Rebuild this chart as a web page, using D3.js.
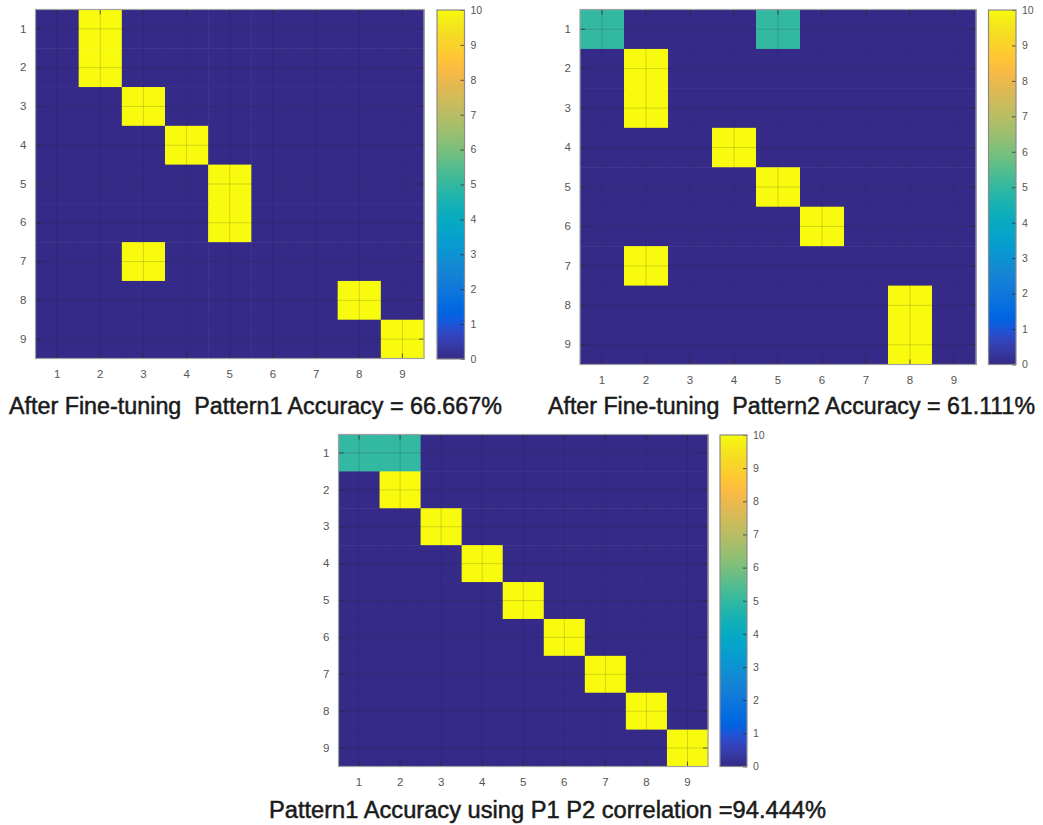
<!DOCTYPE html>
<html>
<head>
<meta charset="utf-8">
<script src="https://cdn.jsdelivr.net/npm/d3@7"></script>
<style>
  html, body { margin: 0; padding: 0; background: #ffffff; }
  svg { display: block; font-family: "Liberation Sans", Arial, sans-serif; }
</style>
</head>
<body>
<svg id="chart" width="1043" height="825"></svg>
<script>
// Class labels shared by both axes of every confusion matrix
const classLabels = [1, 2, 3, 4, 5, 6, 7, 8, 9];

// Confusion matrices (rows = true class, columns = predicted class)
const pattern1Matrix = [
  [0, 10, 0, 0, 0, 0, 0, 0, 0],
  [0, 10, 0, 0, 0, 0, 0, 0, 0],
  [0, 0, 10, 0, 0, 0, 0, 0, 0],
  [0, 0, 0, 10, 0, 0, 0, 0, 0],
  [0, 0, 0, 0, 10, 0, 0, 0, 0],
  [0, 0, 0, 0, 10, 0, 0, 0, 0],
  [0, 0, 10, 0, 0, 0, 0, 0, 0],
  [0, 0, 0, 0, 0, 0, 0, 10, 0],
  [0, 0, 0, 0, 0, 0, 0, 0, 10]
];
const pattern2Matrix = [
  [5, 0, 0, 0, 5, 0, 0, 0, 0],
  [0, 10, 0, 0, 0, 0, 0, 0, 0],
  [0, 10, 0, 0, 0, 0, 0, 0, 0],
  [0, 0, 0, 10, 0, 0, 0, 0, 0],
  [0, 0, 0, 0, 10, 0, 0, 0, 0],
  [0, 0, 0, 0, 0, 10, 0, 0, 0],
  [0, 10, 0, 0, 0, 0, 0, 0, 0],
  [0, 0, 0, 0, 0, 0, 0, 10, 0],
  [0, 0, 0, 0, 0, 0, 0, 10, 0]
];
const correlationMatrix = [
  [5, 5, 0, 0, 0, 0, 0, 0, 0],
  [0, 10, 0, 0, 0, 0, 0, 0, 0],
  [0, 0, 10, 0, 0, 0, 0, 0, 0],
  [0, 0, 0, 10, 0, 0, 0, 0, 0],
  [0, 0, 0, 0, 10, 0, 0, 0, 0],
  [0, 0, 0, 0, 0, 10, 0, 0, 0],
  [0, 0, 0, 0, 0, 0, 10, 0, 0],
  [0, 0, 0, 0, 0, 0, 0, 10, 0],
  [0, 0, 0, 0, 0, 0, 0, 0, 10]
];

// Colour bar range and ticks
const colorDomain = [0, 10];
const colorbarTicks = [0, 1, 2, 3, 4, 5, 6, 7, 8, 9, 10];

// Panel captions
const panelTitles = [
  "After Fine-tuning  Pattern1 Accuracy = 66.667%",
  "After Fine-tuning  Pattern2 Accuracy = 61.111%",
  "Pattern1 Accuracy using P1 P2 correlation =94.444%"
];

// Parula colormap (64 entries)
const parula = [
  [0.2081,0.1663,0.5292],[0.2116,0.1898,0.5777],[0.2123,0.2138,0.6270],[0.2081,0.2386,0.6771],
  [0.1959,0.2645,0.7279],[0.1707,0.2919,0.7792],[0.1253,0.3242,0.8303],[0.0591,0.3598,0.8683],
  [0.0117,0.3875,0.8820],[0.0060,0.4086,0.8828],[0.0165,0.4266,0.8786],[0.0329,0.4430,0.8720],
  [0.0498,0.4586,0.8641],[0.0629,0.4737,0.8554],[0.0723,0.4887,0.8467],[0.0779,0.5040,0.8384],
  [0.0793,0.5200,0.8312],[0.0749,0.5375,0.8263],[0.0641,0.5570,0.8240],[0.0488,0.5772,0.8228],
  [0.0343,0.5966,0.8199],[0.0265,0.6137,0.8135],[0.0239,0.6287,0.8038],[0.0231,0.6418,0.7913],
  [0.0228,0.6535,0.7768],[0.0267,0.6642,0.7607],[0.0384,0.6743,0.7436],[0.0590,0.6838,0.7254],
  [0.0843,0.6928,0.7062],[0.1133,0.7015,0.6859],[0.1453,0.7098,0.6646],[0.1801,0.7177,0.6424],
  [0.2178,0.7250,0.6193],[0.2586,0.7317,0.5954],[0.3022,0.7376,0.5712],[0.3482,0.7424,0.5473],
  [0.3953,0.7459,0.5244],[0.4420,0.7481,0.5033],[0.4871,0.7491,0.4840],[0.5300,0.7491,0.4661],
  [0.5709,0.7485,0.4494],[0.6099,0.7473,0.4337],[0.6473,0.7456,0.4188],[0.6834,0.7435,0.4044],
  [0.7184,0.7411,0.3905],[0.7525,0.7384,0.3768],[0.7858,0.7356,0.3633],[0.8185,0.7327,0.3498],
  [0.8507,0.7299,0.3360],[0.8824,0.7274,0.3217],[0.9139,0.7258,0.3063],[0.9450,0.7261,0.2886],
  [0.9739,0.7314,0.2666],[0.9938,0.7455,0.2403],[0.9990,0.7653,0.2164],[0.9955,0.7861,0.1967],
  [0.9880,0.8066,0.1794],[0.9789,0.8271,0.1633],[0.9697,0.8481,0.1475],[0.9626,0.8705,0.1309],
  [0.9589,0.8949,0.1132],[0.9598,0.9218,0.0948],[0.9661,0.9514,0.0755],[0.9763,0.9831,0.0538]
].map(c => d3.rgb(c[0] * 255, c[1] * 255, c[2] * 255).formatHex());

const parulaInterp = d3.piecewise(d3.interpolateRgb, parula);
const color = d3.scaleSequential(parulaInterp).domain(colorDomain);

// Layout of the three panels: plot box, colour bar box, caption
const panels = [
  { matrix: pattern1Matrix, title: panelTitles[0],
    plot: { x0: 35.5, x1: 424, y0: 9.5, y1: 358.5 },
    bar: { x0: 437, x1: 464.5, y0: 10, y1: 359 },
    caption: { x0: 9, x1: 502, y: 414 } },
  { matrix: pattern2Matrix, title: panelTitles[1],
    plot: { x0: 580, x1: 976, y0: 9.5, y1: 364.5 },
    bar: { x0: 988.5, x1: 1016, y0: 10, y1: 364.5 },
    caption: { x0: 548, x1: 1035, y: 414 } },
  { matrix: correlationMatrix, title: panelTitles[2],
    plot: { x0: 338.5, x1: 708, y0: 434.5, y1: 766.5 },
    bar: { x0: 720, x1: 747, y0: 435, y1: 766.5 },
    caption: { x0: 269, x1: 826, y: 818 } }
];

const svg = d3.select("#chart");
const defs = svg.append("defs");

// Vertical gradient used by every colour bar
const grad = defs.append("linearGradient")
  .attr("id", "parulaGrad")
  .attr("x1", 0).attr("y1", 1).attr("x2", 0).attr("y2", 0);
parula.forEach((c, i) => {
  grad.append("stop")
    .attr("offset", i / (parula.length - 1))
    .attr("stop-color", c);
});

const tickColor = "#2b2b2b";
const labelColor = "#555555";

panels.forEach(p => {
  const g = svg.append("g");
  const W = p.plot.x1 - p.plot.x0;
  const H = p.plot.y1 - p.plot.y0;

  const x = d3.scaleBand().domain(classLabels).range([p.plot.x0, p.plot.x1]).padding(0);
  const y = d3.scaleBand().domain(classLabels).range([p.plot.y0, p.plot.y1]).padding(0);

  // Cells
  const cells = [];
  p.matrix.forEach((row, ri) => row.forEach((v, ci) => {
    cells.push({ r: classLabels[ri], c: classLabels[ci], v });
  }));
  g.append("g").selectAll("rect")
    .data(cells)
    .join("rect")
    .attr("x", d => x(d.c))
    .attr("y", d => y(d.r))
    .attr("width", x.bandwidth() + 0.5)
    .attr("height", y.bandwidth() + 0.5)
    .attr("fill", d => color(d.v));

  // Faint grid lines through cell centres
  const grid = g.append("g")
    .attr("stroke", "#262626")
    .attr("stroke-opacity", 0.18)
    .attr("stroke-width", 1);
  classLabels.forEach(k => {
    const cx = x(k) + x.bandwidth() / 2;
    const cy = y(k) + y.bandwidth() / 2;
    grid.append("line").attr("x1", cx).attr("x2", cx).attr("y1", p.plot.y0).attr("y2", p.plot.y1);
    grid.append("line").attr("y1", cy).attr("y2", cy).attr("x1", p.plot.x0).attr("x2", p.plot.x1);
  });

  // Axes: inward ticks on all four sides, labels on bottom and left
  const styleAxis = sel => {
    sel.select(".domain").remove();
    sel.selectAll(".tick line").attr("stroke", tickColor).attr("stroke-opacity", 0.75);
    sel.selectAll(".tick text")
      .attr("fill", labelColor)
      .style("font-size", "11.5px")
      .style("font-family", "'Liberation Sans', Arial, sans-serif");
  };
  g.append("g")
    .attr("transform", `translate(0,${p.plot.y1})`)
    .call(d3.axisBottom(x).tickSizeInner(-5).tickSizeOuter(0).tickPadding(11))
    .call(styleAxis);
  g.append("g")
    .attr("transform", `translate(0,${p.plot.y0})`)
    .call(d3.axisTop(x).tickSizeInner(-5).tickSizeOuter(0).tickFormat(""))
    .call(styleAxis);
  g.append("g")
    .attr("transform", `translate(${p.plot.x0},0)`)
    .call(d3.axisLeft(y).tickSizeInner(-5).tickSizeOuter(0).tickPadding(9))
    .call(styleAxis);
  g.append("g")
    .attr("transform", `translate(${p.plot.x1},0)`)
    .call(d3.axisRight(y).tickSizeInner(-5).tickSizeOuter(0).tickFormat(""))
    .call(styleAxis);

  // Axes box
  g.append("rect")
    .attr("x", p.plot.x0).attr("y", p.plot.y0)
    .attr("width", W).attr("height", H)
    .attr("fill", "none")
    .attr("stroke", "#a0a0a0")
    .attr("stroke-width", 1.2);

  // Colour bar
  const cb = p.bar;
  const cy = d3.scaleLinear().domain(colorDomain).range([cb.y1, cb.y0]);
  g.append("rect")
    .attr("x", cb.x0).attr("y", cb.y0)
    .attr("width", cb.x1 - cb.x0).attr("height", cb.y1 - cb.y0)
    .attr("fill", "url(#parulaGrad)");
  g.append("g")
    .attr("transform", `translate(${cb.x1},0)`)
    .call(d3.axisRight(cy).tickValues(colorbarTicks).tickSizeInner(-4).tickSizeOuter(0).tickPadding(6))
    .call(sel => {
      sel.select(".domain").remove();
      sel.selectAll(".tick line").attr("stroke", tickColor).attr("stroke-opacity", 0.75);
      sel.selectAll(".tick text")
        .attr("fill", labelColor)
        .style("font-size", "10.5px")
        .style("font-family", "'Liberation Sans', Arial, sans-serif");
    });
  g.append("rect")
    .attr("x", cb.x0).attr("y", cb.y0)
    .attr("width", cb.x1 - cb.x0).attr("height", cb.y1 - cb.y0)
    .attr("fill", "none")
    .attr("stroke", "#8a8a8a")
    .attr("stroke-width", 1.2);

  // Caption under the panel
  g.append("text")
    .attr("x", p.caption.x0)
    .attr("y", p.caption.y)
    .attr("textLength", p.caption.x1 - p.caption.x0)
    .attr("lengthAdjust", "spacingAndGlyphs")
    .attr("fill", "#1a1a1a")
    .attr("stroke", "#1a1a1a")
    .attr("stroke-width", 0.5)
    .style("font-size", "23px")
    .style("font-family", "'Liberation Sans', Arial, sans-serif")
    .style("white-space", "pre")
    .text(p.title);
});
</script>
</body>
</html>
